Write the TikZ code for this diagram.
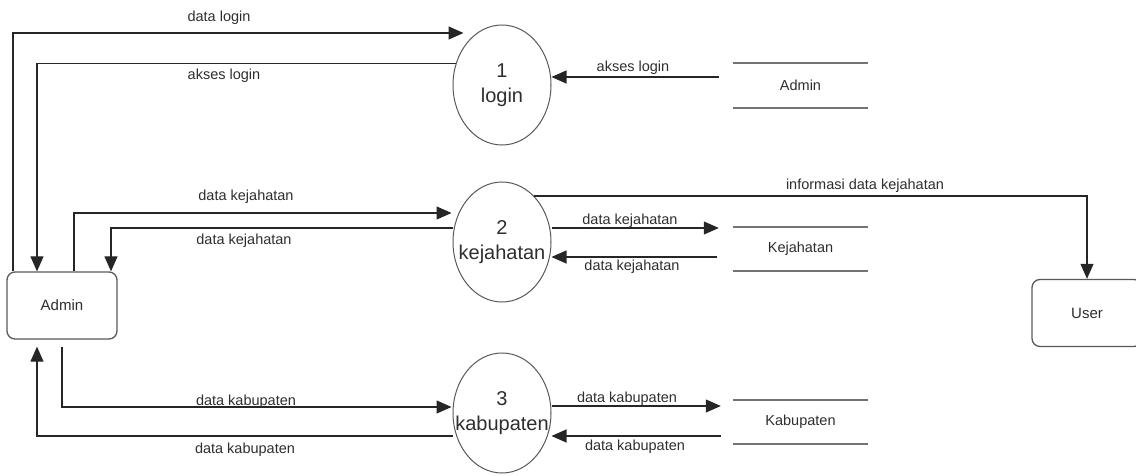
\documentclass[tikz,border=0pt]{standalone}
\usepackage{fontspec}
\setmainfont{Liberation Sans}
\usepackage{tikz}
\usetikzlibrary{positioning,shapes.geometric,arrows.meta}
\definecolor{linegray}{rgb}{0.15,0.15,0.15}
\definecolor{textgray}{rgb}{0.18,0.18,0.18}

\tikzset{
  process/.style = {draw=black!65, ellipse, line width=1pt, minimum width=98pt,
    minimum height=120pt, inner xsep=-14pt, inner ysep=0pt, align=center,
    text=textgray, font=\fontsize{20}{25}\selectfont},
  entity/.style = {draw=black!65, rounded corners=8pt, line width=1.3pt,
    minimum width=110pt, minimum height=67pt, text=textgray,
    font=\fontsize{15}{18}\selectfont},
  store/.style = {minimum width=135pt, minimum height=44pt, inner sep=0pt,
    text=textgray, font=\fontsize{14.5}{17}\selectfont},
  storeline/.style = {draw=black!55, line width=2pt},
  flow/.style = {draw=linegray, line width=1.2pt, -{Triangle[length=15pt,width=13pt]}},
  lbl/.style = {inner sep=0pt, text=textgray, font=\fontsize{14.5}{17}\selectfont}
}

\begin{document}
\begin{tikzpicture}[x=1pt, y=-1pt]
\useasboundingbox (0,0) rectangle (1136,476);

% external entities
\node[entity] (adm) at (62,305.5) {Admin};
\node[entity] (usr) at (1087,313) {User};

% processes
\node[process] (p1) at (502,85) {1\\login};
\node[process] (p2) at (502,242) {2\\kejahatan};
\node[process] (p3) at (502,413) {3\\kabupaten};

% data stores
\node[store] (s1) at (800.5,85.5) {Admin};
\node[store] (s2) at (800.5,249) {Kejahatan};
\node[store] (s3) at (800.5,422) {Kabupaten};
\foreach \s in {s1,s2,s3}
  \draw[storeline] (\s.north west) -- (\s.north east)
                   (\s.south west) -- (\s.south east);

\coordinate (admb) at ([yshift=-7pt]adm.south);

% login
\draw[flow] (adm.north -| 13,0) |- ([xshift=11pt]p1.west |- 0,33);
\draw[flow] (p1.155) -| (adm.north -| 37,0);
\draw[flow] ([xshift=-14pt]s1.west |- 0,77) -- (p1.east |- 0,77);

% kejahatan
\draw[flow] (adm.north -| 74,0) |- ([xshift=-1pt]p2.west |- 0,213);
\draw[flow] (p2.west |- 0,228) -| (adm.north -| 111,0);
\draw[flow] (p2.east |- 0,228) -- ([xshift=-14pt]s2.west |- 0,228);
\draw[flow] ([xshift=-16pt]s2.west |- 0,257) -- (p2.east |- 0,257);
\draw[flow] (p2.55) -| (usr.north);

% kabupaten
\draw[flow] (admb) |- ([xshift=-1pt]p3.west |- 0,407);
\draw[flow] (p3.west |- 0,436) -| (admb -| 37,0);
\draw[flow] (p3.east |- 0,406) -- ([xshift=-12pt]s3.west |- 0,406);
\draw[flow] ([xshift=-12pt]s3.west |- 0,436) -- (p3.east |- 0,436);

% labels
\node[lbl] (l1) at (219,18) {data login};
\node[lbl] (l2) at (224,76) {akses login};
\node[lbl] (l3) at (633,68) {akses login};
\node[lbl] (l4) at (246,197) {data kejahatan};
\node[lbl] (l5) at (244,241) {data kejahatan};
\node[lbl] (l6) at (865,186) {informasi data kejahatan};
\node[lbl] (l7) at (630,221) {data kejahatan};
\node[lbl] (l8) at (632,267) {data kejahatan};
\node[lbl] (l9) at (246,402) {data kabupaten};
\node[lbl] (l10) at (245,450) {data kabupaten};
\node[lbl] (l11) at (627,399) {data kabupaten};
\node[lbl] (l12) at (635,447) {data kabupaten};
\end{tikzpicture}
\end{document}
